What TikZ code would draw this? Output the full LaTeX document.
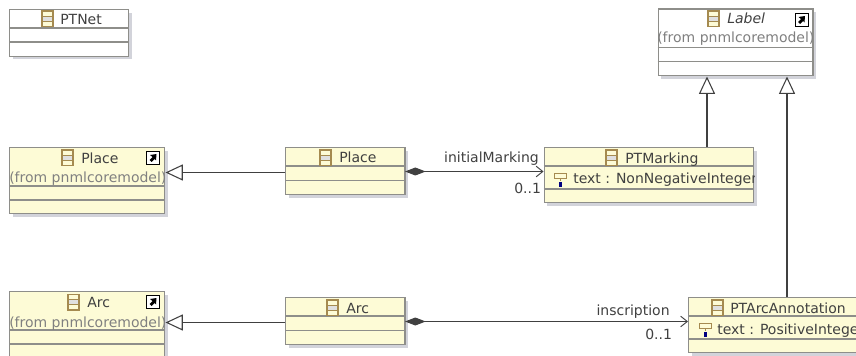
\documentclass[tikz,border=0pt]{standalone}
\usepackage{fontspec}
\setmainfont{DejaVu Sans}
\usepackage{tikz}
\usetikzlibrary{arrows.meta, shadows}
\definecolor{classfill}{HTML}{FDFBD6}
\definecolor{classline}{HTML}{8E8E8A}
\definecolor{textdark}{HTML}{404040}
\definecolor{textfrom}{HTML}{808080}
\definecolor{shadowgrey}{HTML}{D2D3DA}
\definecolor{icontan}{HTML}{A58A50}
\tikzstyle{classbox} = [rectangle, anchor=north west, inner sep=0pt, draw=classline, line width=1.1pt, fill=classfill, drop shadow={shadow xshift=2.2pt, shadow yshift=-2.2pt, fill=shadowgrey, opacity=1}]
\tikzstyle{plainbox} = [classbox, fill=white]
\tikzstyle{divider} = [draw=classline, line width=1.1pt]
\tikzstyle{title} = [anchor=base west, inner sep=0pt, text=textdark, font=\fontsize{10.5pt}{12pt}\selectfont]
\tikzstyle{from} = [title, text=textfrom]
\tikzstyle{rolelabel} = [title]
\tikzstyle{generalize} = [draw=textdark, line width=0.8pt, -{Triangle[open, length=13pt, width=12pt, line width=0.8pt]}]
\tikzstyle{composite} = [draw=textdark, line width=0.8pt, {Diamond[length=15.5pt, width=6pt, fill=textdark]}-{Straight Barb[length=5pt, width=8pt, line width=0.7pt]}]
\tikzset{
  classicon/.pic={
    \draw [draw=icontan, line width=0.8pt, fill=classfill] (0,0) rectangle (11,15.5);
    \fill [black!12] (1,5) rectangle (10,10);
    \draw [draw=icontan, line width=0.5pt] (0,5) -- (11,5) (0,10.2) -- (11,10.2);
  },
  attricon/.pic={
    \draw [draw=icontan, line width=0.7pt, fill=classfill] (0,0) rectangle (12,5.5);
    \draw [draw=icontan, line width=0.7pt] (6,5.5) -- (6,8);
    \fill [blue!50!black] (5,8.5) rectangle (7.5,14);
  },
  linkicon/.pic={
    \draw [draw=black, line width=0.6pt, fill=white] (0,0) rectangle (13,13);
    \fill [black] (3.5,4) -- (10,3) -- (9.5,9.5) -- (8,8) -- (5,11) -- (3,9) -- (6,6) -- cycle;
  }
}
\begin{document}
\begin{tikzpicture}[x=0.75pt, y=-0.75pt]
  \clip (0,0) rectangle (856,356);
  % classes
  \node (ptnet) [plainbox, minimum width=89.25pt, minimum height=34.9pt] at (9,9) {};
  \node (label) [plainbox, minimum width=115.9pt, minimum height=49.9pt] at (657.5,8.5) {};
  \node (placefrom) [classbox, minimum width=116.25pt, minimum height=49.5pt] at (9,147) {};
  \node (place) [classbox, minimum width=89.6pt, minimum height=35.25pt] at (285,147) {};
  \node (ptmarking) [classbox, minimum width=157.1pt, minimum height=41.25pt] at (543.5,147) {};
  \node (arcfrom) [classbox, minimum width=116.25pt, minimum height=49.5pt] at (9,291) {};
  \node (arc) [classbox, minimum width=89.6pt, minimum height=35.25pt] at (285,297) {};
  \node (ptarc) [classbox, minimum width=135pt, minimum height=41.25pt] at (688,297) {};
  % compartments
  \draw [divider] (ptnet.west |- 0,28) -- (ptnet.east |- 0,28);
  \draw [divider] (ptnet.west |- 0,42) -- (ptnet.east |- 0,42);
  \draw [divider] (label.west |- 0,47.5) -- (label.east |- 0,47.5);
  \draw [divider] (label.west |- 0,61.5) -- (label.east |- 0,61.5);
  \draw [divider] (placefrom.west |- 0,186) -- (placefrom.east |- 0,186);
  \draw [divider] (placefrom.west |- 0,200) -- (placefrom.east |- 0,200);
  \draw [divider] (place.west |- 0,166) -- (place.east |- 0,166);
  \draw [divider] (place.west |- 0,180.5) -- (place.east |- 0,180.5);
  \draw [divider] (ptmarking.west |- 0,166) -- (ptmarking.east |- 0,166);
  \draw [divider] (ptmarking.west |- 0,189) -- (ptmarking.east |- 0,189);
  \draw [divider] (arcfrom.west |- 0,330) -- (arcfrom.east |- 0,330);
  \draw [divider] (arcfrom.west |- 0,344) -- (arcfrom.east |- 0,344);
  \draw [divider] (arc.west |- 0,316) -- (arc.east |- 0,316);
  \draw [divider] (arc.west |- 0,330.5) -- (arc.east |- 0,330.5);
  \draw [divider] (ptarc.west |- 0,316) -- (ptarc.east |- 0,316);
  \draw [divider] (ptarc.west |- 0,339) -- (ptarc.east |- 0,339);
  % icons
  \pic at (42,11) {classicon};
  \pic at (708,11) {classicon};
  \pic at (62,150) {classicon};
  \pic at (320,150) {classicon};
  \pic at (606,150) {classicon};
  \pic at (68,294.5) {classicon};
  \pic at (327,300) {classicon};
  \pic at (712,300) {classicon};
  \pic at (554,173) {attricon};
  \pic at (699,323) {attricon};
  \pic at (795,13) {linkicon};
  \pic at (146.5,151) {linkicon};
  \pic at (146.5,295) {linkicon};
  % texts
  \node (ptnettitle) [title] at (60,24.5) {PTNet};
  \node (labeltitle) [title, font=\fontsize{10.5pt}{12pt}\selectfont\itshape] at (727,24) {Label};
  \node (labelfrom) [from] at (657,43) {(from pnmlcoremodel)};
  \node (placefromtitle) [title] at (81,163) {Place};
  \node (placefromtext) [from] at (9,182) {(from pnmlcoremodel)};
  \node (placetitle) [title] at (339,162) {Place};
  \node (ptmarkingtitle) [title] at (625,163) {PTMarking};
  \node (arcfromtitle) [title] at (87,307) {Arc};
  \node (arcfromtext) [from] at (9,327) {(from pnmlcoremodel)};
  \node (arctitle) [title] at (346,313) {Arc};
  \node (ptarctitle) [title] at (730,313) {PTArcAnnotation};
  \begin{scope}
    \clip (ptmarking.north west) rectangle (ptmarking.south east);
    \node (markingattr) [title] at (573,184) {text : NonNegativeInteger};
  \end{scope}
  \node (arcattr) [title] at (717,334) {text : PositiveInteger};
  % connectors
  \coordinate (placegen) at (285,172.5);
  \coordinate (arcgen) at (285,322.5);
  \coordinate (markingup) at (707,147);
  \coordinate (ptarcup) at (787,297);
  \coordinate (arcout) at (405,321.5);
  \coordinate (placeout) at (405,171.5);
  \draw [generalize] (placegen) -- (placegen -| placefrom.east);
  \draw [generalize] (arcgen) -- (arcgen -| arcfrom.east);
  \draw [generalize] (markingup) -- (markingup |- label.south);
  \draw [generalize] (ptarcup) -- (ptarcup |- label.south);
  \draw [composite] (placeout) -- node[rolelabel, anchor=base east, pos=0.97, yshift=6.75pt] (initial) {initialMarking} (placeout -| ptmarking.west);
  \draw [composite] (arcout) -- node[rolelabel, anchor=base east, pos=0.937, yshift=4.5pt] (inscription) {inscription} (arcout -| ptarc.west);
  \node (placecard) [rolelabel] at (514,193) {0..1};
  \node (arccard) [rolelabel] at (645,339) {0..1};
\end{tikzpicture}
\end{document}
